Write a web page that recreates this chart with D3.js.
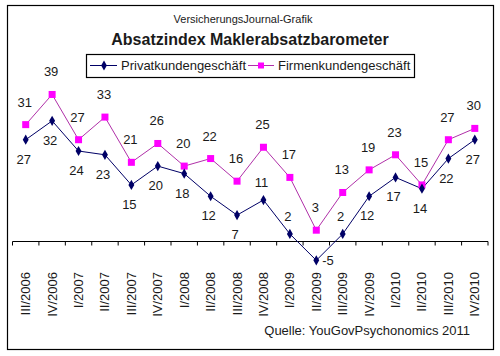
<!DOCTYPE html>
<html><head><meta charset="utf-8">
<script src="https://cdn.jsdelivr.net/npm/d3@7"></script>
<style>
html,body{margin:0;padding:0;background:#fff;}
svg{display:block;}
text{font-family:"Liberation Sans",Arial,sans-serif;fill:#1a1a1a;}
</style></head>
<body>
<svg id="chart" width="500" height="356"></svg>
<script>
const categories = ["III/2006","IV/2006","I/2007","II/2007","III/2007","IV/2007","I/2008","II/2008","III/2008","IV/2008","I/2009","II/2009","III/2009","IV/2009","I/2010","II/2010","III/2010","IV/2010"];
const privat = [27,32,24,23,15,20,18,12,7,11,2,-5,2,12,17,14,22,27];
const firmen = [31,39,27,33,21,26,20,22,16,25,17,3,13,19,23,15,27,30];
const seriesNames = ["Privatkundengeschäft","Firmenkundengeschäft"];
const privatLabelPlace = ["below","below","below","below","below","below","below","below","below","above","above","right","above","below","below","below","below","below"];

const svg = d3.select("#chart");
const W = 500, H = 356;

svg.append("rect").attr("x",7.5).attr("y",5.5).attr("width",486).attr("height",344)
  .attr("fill","#fff").attr("stroke","#000").attr("stroke-width",1.2);

const x = d3.scaleBand().domain(categories).range([12.5,488]);
const y = d3.scaleLinear().domain([-7,40]).range([241.5+7*3.77, 241.5-40*3.77]);

// titles
svg.append("text").attr("x",243).attr("y",23).attr("text-anchor","middle")
  .attr("font-size","11px").text("VersicherungsJournal-Grafik");
svg.append("text").attr("x",250).attr("y",45).attr("text-anchor","middle")
  .attr("font-size","16px").attr("font-weight","bold").text("Absatzindex Maklerabsatzbarometer");

// legend
const lg = svg.append("g");
lg.append("rect").attr("x",86.5).attr("y",54.5).attr("width",328).attr("height",23)
  .attr("fill","#fff").attr("stroke","#000").attr("stroke-width",1.2);
lg.append("line").attr("x1",90).attr("x2",117).attr("y1",65.5).attr("y2",65.5).attr("stroke","#000066");
lg.append("path").attr("d",d3.symbol(d3.symbolDiamond,28)()).attr("transform","translate(104,65.5)").attr("fill","#000066");
lg.append("text").attr("x",121).attr("y",70).attr("font-size","13px").text(seriesNames[0]);
lg.append("line").attr("x1",248).attr("x2",274).attr("y1",65.5).attr("y2",65.5).attr("stroke","#b030a8");
lg.append("rect").attr("x",258).attr("y",62.5).attr("width",6).attr("height",6).attr("fill","#ff00ff");
lg.append("text").attr("x",278).attr("y",70).attr("font-size","13px").text(seriesNames[1]);

// x axis
const axis = d3.axisBottom(x).tickSize(0).tickFormat("");
const ag = svg.append("g").attr("transform",`translate(0,${y(0)})`).call(axis);
ag.select(".domain").attr("stroke","#000").attr("d",`M${x.range()[0]},0H${x.range()[1]}`);
const bounds = categories.map(c=>x(c)).concat([x.range()[1]]);
ag.selectAll(".bt").data(bounds).enter().append("line").attr("class","bt")
  .attr("x1",d=>d).attr("x2",d=>d).attr("y1",0).attr("y2",4).attr("stroke","#000");

// x labels (rotated)
svg.append("g").selectAll("text").data(categories).enter().append("text")
  .attr("transform",d=>`translate(${x(d)+x.bandwidth()/2+4.5},272) rotate(-90)`)
  .attr("text-anchor","end").attr("font-size","13px").text(d=>d);

const cx = (d,i)=>x(categories[i])+x.bandwidth()/2;

// lines
const line = d3.line().x((d,i)=>cx(d,i)).y(d=>y(d));
svg.append("path").datum(firmen).attr("d",line).attr("fill","none").attr("stroke","#b030a8").attr("stroke-width",1);
svg.append("path").datum(privat).attr("d",line).attr("fill","none").attr("stroke","#000066").attr("stroke-width",1);

// markers
svg.append("g").selectAll("rect").data(firmen).enter().append("rect")
  .attr("x",(d,i)=>cx(d,i)-3.5).attr("y",d=>y(d)-3.5).attr("width",7).attr("height",7).attr("fill","#ff00ff");
svg.append("g").selectAll("path").data(privat).enter().append("path")
  .attr("d",d3.symbol(d3.symbolDiamond,30)())
  .attr("transform",(d,i)=>`translate(${cx(d,i)},${y(d)})`).attr("fill","#000066");

// labels
svg.append("g").selectAll("text").data(firmen).enter().append("text")
  .attr("x",(d,i)=>cx(d,i)-1).attr("y",d=>y(d)-18).attr("text-anchor","middle")
  .attr("font-size","13px").text(d=>d);
svg.append("g").selectAll("text").data(privat).enter().append("text")
  .attr("x",(d,i)=>privatLabelPlace[i]==="right"? cx(d,i)+6 : cx(d,i)-2)
  .attr("y",(d,i)=>privatLabelPlace[i]==="above"? y(d)-13 : privatLabelPlace[i]==="right"? y(d)+5 : y(d)+24)
  .attr("text-anchor",(d,i)=>privatLabelPlace[i]==="right"?"start":"middle")
  .attr("font-size","13px").text(d=>d);

// source
svg.append("text").attr("x",470).attr("y",335).attr("text-anchor","end")
  .attr("font-size","13px").text("Quelle: YouGovPsychonomics 2011");
</script>
</body></html>
